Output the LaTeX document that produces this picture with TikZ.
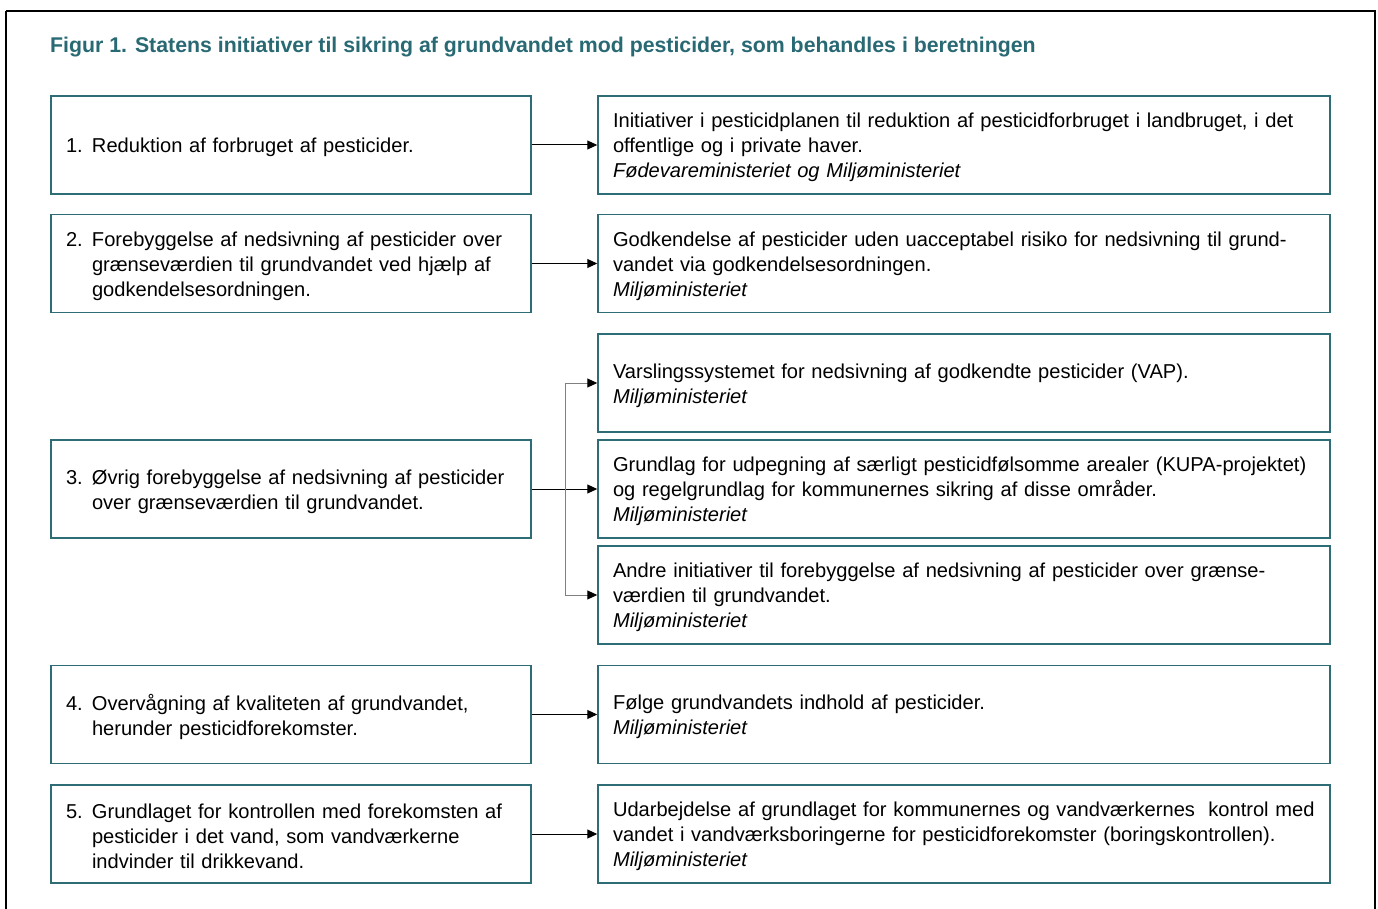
\documentclass[tikz,border=0pt]{standalone}
\usepackage{fontspec}
\setmainfont{Liberation Sans}
\usetikzlibrary{arrows.meta}
\definecolor{teal1}{RGB}{46,108,118}
\definecolor{titlec}{RGB}{40,105,115}
\tikzset{
  frame/.style={draw=teal1, line width=1.5pt, inner sep=0pt, minimum height=98pt, anchor=center},
  lframe/.style={frame, minimum width=480pt},
  rframe/.style={frame, minimum width=732pt},
  txt/.style={inner sep=0pt, align=left, font=\fontsize{20.1}{24.9}\selectfont, anchor=center, yshift=-2.5pt},
  ltext/.style={txt, text width=450pt},
  rtext/.style={txt, text width=702pt},
  arr/.style={-{Triangle[length=10pt,width=9pt]}, line width=1pt, black},
  garr/.style={-{Triangle[length=10pt,width=9pt,color=black,fill=black]}, line width=1pt, gray},
}
\newcommand{\nb}[1]{\makebox[26pt][l]{#1}}
\newcommand{\ind}{\hspace*{26pt}}
\begin{document}
\begin{tikzpicture}[x=1pt,y=-1pt]
\useasboundingbox (0,0) rectangle (1378,909);
\draw[line width=2pt] (6,11) -- (6,920) (6,11) -- (1375,11) -- (1375,920);
\node[anchor=base west, font=\fontsize{21.3}{24}\selectfont\bfseries, text=titlec, inner sep=0pt] (title) at (50,52.5) {Figur 1. Statens initiativer til sikring af grundvandet mod pesticider, som behandles i beretningen};

\node[lframe] (l1) at (291,145) {};
\node[ltext] (l1t) at (l1.center) {\nb{1.}Reduktion af forbruget af pesticider.};
\node[rframe] (r1) at (964,145) {};
\node[rtext] (r1t) at (r1.center) {Initiativer i pesticidplanen til reduktion af pesticidforbruget i landbruget, i det\\ offentlige og i private haver.\\ \textit{Fødevareministeriet og Miljøministeriet}};

\node[lframe] (l2) at (291,263.5) {};
\node[ltext] (l2t) at (l2.center) {\nb{2.}Forebyggelse af nedsivning af pesticider over\\ \ind grænseværdien til grundvandet ved hjælp af\\ \ind godkendelsesordningen.};
\node[rframe] (r2) at (964,263.5) {};
\node[rtext] (r2t) at (r2.center) {Godkendelse af pesticider uden uacceptabel risiko for nedsivning til grund-\\vandet via godkendelsesordningen.\\ \textit{Miljøministeriet}};

\node[lframe] (l3) at (291,489) {};
\node[ltext] (l3t) at (l3.center) {\nb{3.}Øvrig forebyggelse af nedsivning af pesticider\\ \ind over grænseværdien til grundvandet.};
\node[rframe] (r3a) at (964,383) {};
\node[rtext] (r3at) at (r3a.center) {Varslingssystemet for nedsivning af godkendte pesticider (VAP).\\ \textit{Miljøministeriet}};
\node[rframe] (r3b) at (964,489) {};
\node[rtext] (r3bt) at (r3b.center) {Grundlag for udpegning af særligt pesticidfølsomme arealer (KUPA-projektet)\\ og regelgrundlag for kommunernes sikring af disse områder.\\ \textit{Miljøministeriet}};
\node[rframe] (r3c) at (964,595) {};
\node[rtext] (r3ct) at (r3c.center) {Andre initiativer til forebyggelse af nedsivning af pesticider over grænse-\\værdien til grundvandet.\\ \textit{Miljøministeriet}};

\node[lframe] (l4) at (291,714.5) {};
\node[ltext] (l4t) at (l4.center) {\nb{4.}Overvågning af kvaliteten af grundvandet,\\ \ind herunder pesticidforekomster.};
\node[rframe] (r4) at (964,714.5) {};
\node[rtext] (r4t) at (r4.center) {Følge grundvandets indhold af pesticider.\\ \textit{Miljøministeriet}};

\node[lframe] (l5) at (291,834) {};
\node[ltext] (l5t) at (l5.center) {\nb{5.}Grundlaget for kontrollen med forekomsten af\\ \ind pesticider i det vand, som vandværkerne\\ \ind indvinder til drikkevand.};
\node[rframe] (r5) at (964,834) {};
\node[rtext] (r5t) at (r5.center) {\mbox{Udarbejdelse af grundlaget for kommunernes og vandværkernes\ \ kontrol med}\\ vandet i vandværksboringerne for pesticidforekomster (boringskontrollen).\\ \textit{Miljøministeriet}};

\draw[arr] (l1.east) -- (r1.west);
\draw[arr] (l2.east) -- (r2.west);
\draw[arr] (l3.east) -- (r3b.west);
\draw[arr] (l4.east) -- (r4.west);
\draw[arr] (l5.east) -- (r5.west);
\coordinate (vx) at (565,0);
\draw[gray, line width=1pt] (vx |- r3a.west) -- (vx |- r3c.west);
\draw[garr] (vx |- r3a.west) -- (r3a.west);
\draw[garr] (vx |- r3c.west) -- (r3c.west);
\end{tikzpicture}
\end{document}
